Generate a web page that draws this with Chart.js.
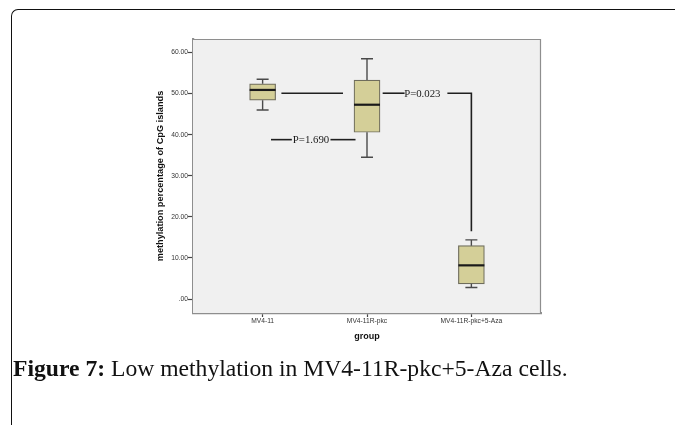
<!DOCTYPE html>
<html>
<head>
<meta charset="utf-8">
<script src="https://cdn.jsdelivr.net/npm/chart.js@4/dist/chart.umd.min.js"></script>
<style>
  html, body { margin: 0; padding: 0; background: #ffffff; width: 675px; height: 425px; overflow: hidden; }
  #frame { position: absolute; left: 11px; top: 9px; width: 720px; height: 470px;
           border-top: 1.6px solid #111; border-left: 1.6px solid #111; border-top-left-radius: 7px; }
  #wrap { position: absolute; left: 0; top: 0; width: 675px; height: 425px; }
  #caption { position: absolute; left: 13px; top: 360px; white-space: nowrap; line-height: 1;
             font-family: "Liberation Serif", serif; color: #111; }
  #caption b { font-weight: bold; }
</style>
</head>
<body>
<div id="frame"></div>
<div id="wrap"><canvas id="c"></canvas></div>
<div id="caption"><b>Figure 7:</b> Low methylation in MV4-11R-pkc+5-Aza cells.</div>
<script>
// ---- data ----
const categories = ['MV4-11', 'MV4-11R-pkc', 'MV4-11R-pkc+5-Aza'];
const whiskerLow  = [46.0, 34.5, 2.8];
const quartile1   = [48.4, 40.6, 3.7];
const medians     = [50.9, 47.3, 8.2];
const quartile3   = [52.4, 53.3, 13.0];
const whiskerHigh = [53.5, 58.5, 14.4];
const yTicks = [0, 10, 20, 30, 40, 50, 60];

// annotation connector lines (x in category units, y in data units)
const lineA  = [{x: 0.18, y: 50.1}, {x: 0.77, y: 50.1}];
const lineB1 = [{x: 0.08, y: 38.8}, {x: 0.28, y: 38.8}];
const lineB2 = [{x: 0.65, y: 38.8}, {x: 0.89, y: 38.8}];
const lineC1 = [{x: 1.15, y: 50.1}, {x: 1.36, y: 50.1}];
const lineC2 = [{x: 1.77, y: 50.1}, {x: 2.0, y: 50.1}, {x: 2.0, y: 16.5}];
const pLabels = ['P=1.690', 'P=0.023'];
const pLabelX = [0.464, 1.53];
const pLabelY = [38.8, 50.1];

// ---- caption size fit ----
(function () {
  const cap = document.getElementById('caption');
  const m = document.createElement('canvas').getContext('2d');
  m.font = 'bold 100px "Liberation Serif"';
  let w = m.measureText('Figure 7:').width;
  m.font = '100px "Liberation Serif"';
  w += m.measureText(' Low methylation in MV4-11R-pkc+5-Aza cells.').width;
  const fs = 100 * 555 / w;
  cap.style.fontSize = fs.toFixed(2) + 'px';
  cap.style.top = (377 - 0.8375 * fs).toFixed(2) + 'px';
})();

const boxData = categories.map((c, i) => ({x: i, y: [quartile1[i], quartile3[i]]}));

const plotBg = {
  id: 'plotBg',
  beforeDatasetsDraw(chart) {
    const {ctx, chartArea: a} = chart;
    ctx.save();
    ctx.fillStyle = '#f0f0f0';
    ctx.fillRect(a.left, a.top, a.right - a.left, a.bottom - a.top);
    ctx.strokeStyle = '#8e8e8e';
    ctx.lineWidth = 1.2;
    ctx.beginPath();
    ctx.moveTo(a.left, a.top + 0.5);
    ctx.lineTo(a.right - 0.5, a.top + 0.5);
    ctx.lineTo(a.right - 0.5, a.bottom);
    ctx.stroke();
    ctx.restore();
  }
};

const boxExtras = {
  id: 'boxExtras',
  afterDatasetsDraw(chart) {
    const {ctx, scales: {x, y}} = chart;
    ctx.save();
    const half = 13, cap = 6;
    categories.forEach((c, i) => {
      const cx = x.getPixelForValue(i);
      ctx.strokeStyle = '#4a4a4a';
      ctx.lineWidth = 1.4;
      ctx.beginPath();
      ctx.moveTo(cx, y.getPixelForValue(quartile3[i]));
      ctx.lineTo(cx, y.getPixelForValue(whiskerHigh[i]));
      ctx.moveTo(cx - cap, y.getPixelForValue(whiskerHigh[i]));
      ctx.lineTo(cx + cap, y.getPixelForValue(whiskerHigh[i]));
      ctx.moveTo(cx, y.getPixelForValue(quartile1[i]));
      ctx.lineTo(cx, y.getPixelForValue(whiskerLow[i]));
      ctx.moveTo(cx - cap, y.getPixelForValue(whiskerLow[i]));
      ctx.lineTo(cx + cap, y.getPixelForValue(whiskerLow[i]));
      ctx.stroke();
      ctx.strokeStyle = '#1a1a1a';
      ctx.lineWidth = 2.2;
      ctx.beginPath();
      ctx.moveTo(cx - half, y.getPixelForValue(medians[i]));
      ctx.lineTo(cx + half, y.getPixelForValue(medians[i]));
      ctx.stroke();
    });
    ctx.fillStyle = '#1a1a1a';
    ctx.font = '10.8px "Liberation Serif"';
    ctx.textAlign = 'center';
    ctx.textBaseline = 'middle';
    pLabels.forEach((t, i) => {
      ctx.fillText(t, x.getPixelForValue(pLabelX[i]), y.getPixelForValue(pLabelY[i]) + 0.5);
    });
    ctx.restore();
  }
};

const lineStyle = (data) => ({
  type: 'line', data, borderColor: '#1f1f1f', borderWidth: 1.6,
  pointRadius: 0, fill: false, tension: 0, showLine: true
});

new Chart(document.getElementById('c'), {
  type: 'scatter',
  data: {
    datasets: [
      { type: 'bar', data: boxData, backgroundColor: '#d4cf98', borderColor: '#6f6d5c',
        borderWidth: 1.2, borderSkipped: false, barThickness: 26 },
      lineStyle(lineA), lineStyle(lineB1), lineStyle(lineB2), lineStyle(lineC1), lineStyle(lineC2)
    ]
  },
  options: {
    responsive: true,
    maintainAspectRatio: false,
    animation: false,
    layout: { padding: { left: 150, top: 39, right: 134, bottom: 82 } },
    plugins: { legend: { display: false }, tooltip: { enabled: false } },
    scales: {
      x: {
        type: 'linear', min: -0.667, max: 2.667, offset: false,
        afterFit(s) { s.height = 30; },
        afterBuildTicks(s) { s.ticks = categories.map((c, i) => ({value: i})); },
        ticks: {
          autoSkip: false, maxRotation: 0, padding: 0, color: '#333',
          font: { family: 'Liberation Sans', size: 6.7 },
          callback: (v) => categories[v] !== undefined ? categories[v] : ''
        },
        grid: { drawOnChartArea: false, offset: false, tickLength: 4, color: '#444', tickWidth: 1.2 },
        border: { color: '#8e8e8e', width: 2.2 },
        title: { display: true, text: 'group', color: '#111',
                 font: { family: 'Liberation Sans', size: 9, weight: 'bold' }, padding: { top: 0, bottom: 1 } }
      },
      y: {
        type: 'linear', min: -3.4, max: 63.3,
        afterFit(s) { s.width = 43; },
        afterBuildTicks(s) { s.ticks = yTicks.map(v => ({value: v})); },
        ticks: {
          padding: 0, color: '#333',
          font: { family: 'Liberation Sans', size: 6.7 },
          callback: (v) => v === 0 ? '.00' : v.toFixed(2)
        },
        grid: { drawOnChartArea: false, tickLength: 5, color: '#444', tickWidth: 1.2 },
        border: { color: '#8e8e8e', width: 2.2 },
        title: { display: true, text: 'methylation percentage of CpG islands', color: '#111',
                 font: { family: 'Liberation Sans', size: 9.2, weight: 'bold' }, padding: { top: 5, bottom: 0 } }
      }
    }
  },
  plugins: [plotBg, boxExtras]
});
</script>
</body>
</html>
